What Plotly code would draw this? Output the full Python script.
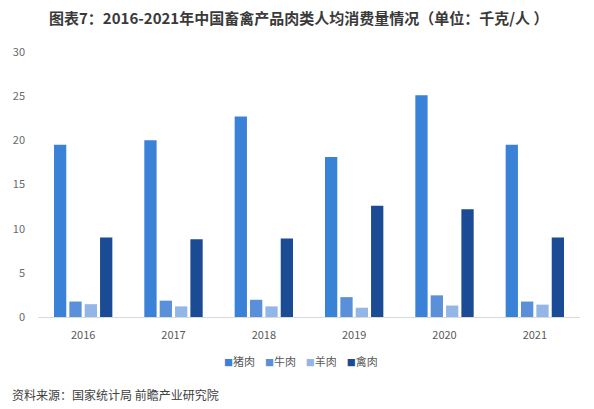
import plotly.graph_objects as go

# data
years = ["2016", "2017", "2018", "2019", "2020", "2021"]
pork = [19.5, 20.0, 22.7, 18.1, 25.1, 19.5]
beef = [1.75, 1.85, 1.95, 2.25, 2.45, 1.75]
mutton = [1.45, 1.2, 1.2, 1.05, 1.3, 1.4]
poultry = [9.0, 8.8, 8.9, 12.6, 12.2, 9.0]

series_names = ["猪肉", "牛肉", "羊肉", "禽肉"]
colors = ["#3a82d8", "#5a8fd9", "#93b6e8", "#1a4b94"]

FONT = "Noto Sans CJK SC"
TITLE = "图表7：2016-2021年中国畜禽产品肉类人均消费量情况（单位：千克/人 ）"

fig = go.Figure()
for name, vals, c in zip(series_names, [pork, beef, mutton, poultry], colors):
    fig.add_trace(go.Bar(x=years, y=vals, name=name, marker_color=c,
                         marker_line_width=0, showlegend=False))

# ==========================================================
# LAYOUT  (page body has an 8px margin, so everything sits 8px up/left)
# ==========================================================
fig.update_layout(
    width=594, height=409,
    barmode="group", bargap=0.32, bargroupgap=0.2,
    paper_bgcolor="white", plot_bgcolor="white",
    margin=dict(l=30, r=22, t=44, b=100, autoexpand=False),
    font=dict(family=FONT, size=11, color="#595959"),
)

fig.update_xaxes(showgrid=False, zeroline=False, showline=True, linecolor="#d9d9d9",
                 linewidth=1, ticks="", ticklabelstandoff=8, automargin=False,
                 tickfont=dict(size=11, color="#595959"))
fig.update_yaxes(range=[0, 30], dtick=5, showgrid=False, zeroline=False, showline=False,
                 ticklabelstandoff=12, automargin=False,
                 tickfont=dict(size=11, color="#6a6a6a"))

# title as a paper annotation so it sits exactly where the original has it
fig.add_annotation(text=f"<b>{TITLE}</b>", xref="paper", yref="paper",
                   x=0.017, y=1.13, xanchor="left", yanchor="middle", showarrow=False,
                   font=dict(family=FONT, size=15, color="#3a3a3a"))

# compact legend line (as in the original, small squares next to the names)
legend_txt = "&nbsp;&nbsp;&nbsp;&nbsp;".join(
    f"<span style='color:{c};font-size:9px'>■</span>{n}" for n, c in zip(series_names, colors)
)
fig.add_annotation(text=legend_txt, xref="paper", yref="paper",
                   x=0.486, y=-0.165, xanchor="center", yanchor="middle", showarrow=False,
                   font=dict(family=FONT, size=11, color="#595959"))

fig.add_annotation(text="资料来源：国家统计局 前瞻产业研究院", xref="paper", yref="paper",
                   x=-0.052, y=-0.293, xanchor="left", yanchor="middle", showarrow=False,
                   font=dict(family=FONT, size=12, color="#404040"))

fig.write_html("out.html")
